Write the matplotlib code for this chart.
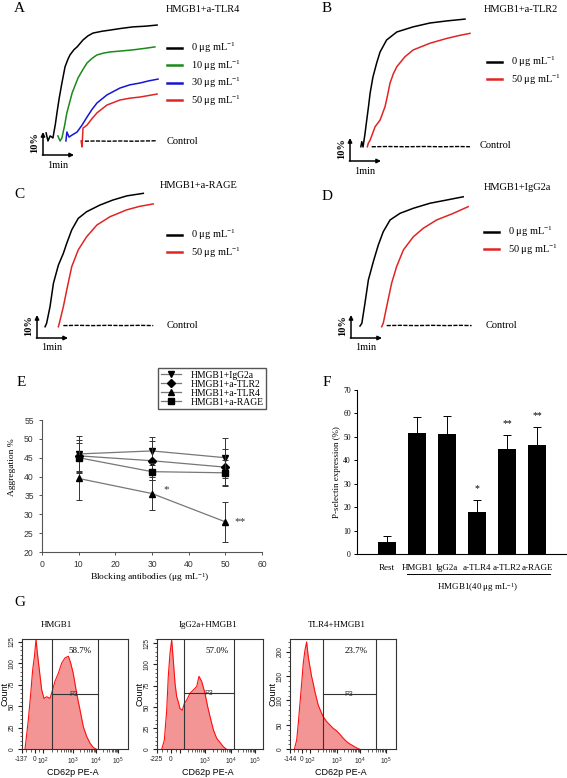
import matplotlib
matplotlib.use('Agg')
import matplotlib.pyplot as plt
import numpy as np
from matplotlib.lines import Line2D

plt.rcParams['font.family'] = ['Liberation Serif', 'DejaVu Serif']
plt.rcParams['mathtext.fontset'] = 'custom'
plt.rcParams['mathtext.rm'] = 'Liberation Serif'
plt.rcParams['mathtext.it'] = 'Liberation Serif:italic'
plt.rcParams['mathtext.bf'] = 'Liberation Serif:bold'
plt.rcParams['mathtext.sf'] = 'Liberation Sans'

# ---------------- data ----------------
# aggregation traces: time (min) vs aggregation (%) from start of scale bar
a_t_0 = [0.10, 0.16, 0.23, 0.32, 0.40, 0.45, 0.52, 0.61, 0.71, 0.80, 0.87, 1.00, 1.10, 1.29, 1.45, 1.61, 1.90, 2.16, 2.50, 2.90, 3.30, 3.68]
a_v_0 = [9.6, 6.1, 8.3, 7.4, 13.5, 18.3, 24.5, 31.3, 38.3, 41.5, 43.5, 45.8, 47.0, 50.0, 51.8, 53.0, 53.8, 54.3, 55.0, 55.7, 56.0, 56.5]
a_t_10 = [0.48, 0.55, 0.61, 0.70, 0.77, 0.94, 1.13, 1.28, 1.42, 1.58, 1.74, 1.95, 2.16, 2.50, 2.90, 3.25, 3.61]
a_v_10 = [8.3, 6.1, 7.4, 13.0, 18.3, 27.0, 33.5, 37.0, 40.0, 42.0, 43.5, 44.3, 44.8, 45.2, 45.7, 46.3, 47.0]
a_t_30 = [0.74, 0.77, 0.84, 0.94, 1.10, 1.26, 1.42, 1.58, 1.74, 2.06, 2.48, 2.80, 3.13, 3.40, 3.71]
a_v_30 = [6.1, 10.0, 7.8, 8.7, 10.0, 13.0, 16.5, 19.8, 22.6, 26.1, 29.1, 30.5, 31.3, 32.2, 33.0]
a_t_50 = [1.23, 1.26, 1.29, 1.42, 1.58, 1.74, 2.06, 2.48, 2.80, 3.13, 3.68]
a_v_50 = [6.1, 3.5, 11.7, 13.0, 15.8, 18.3, 21.7, 23.9, 24.7, 25.2, 26.5]
a_ctrl_t = [1.35, 1.70, 2.10, 2.50, 2.90, 3.30, 3.68]
a_ctrl_v = [6.0, 6.1, 6.0, 6.1, 6.0, 6.1, 6.2]

b_t_0 = [0.35, 0.38, 0.42, 0.48, 0.54, 0.60, 0.65, 0.74, 0.86, 0.97, 1.18, 1.51, 2.03, 2.58, 3.12, 3.71]
b_v_0 = [6.2, 8.4, 6.1, 11.5, 17.8, 24.0, 29.6, 36.5, 42.6, 47.4, 52.6, 56.1, 58.3, 60.0, 60.9, 61.7]
b_t_50 = [0.56, 0.59, 0.65, 0.81, 0.97, 1.13, 1.21, 1.29, 1.40, 1.51, 1.77, 2.04, 2.58, 3.12, 3.50, 3.87]
b_v_50 = [6.2, 7.7, 9.1, 14.9, 17.8, 23.6, 28.5, 33.8, 38.0, 41.0, 45.3, 48.3, 51.2, 53.3, 54.5, 55.5]
b_ctrl_t = [0.70, 1.20, 1.80, 2.40, 3.00, 3.50, 3.87]
b_ctrl_v = [6.2, 6.3, 6.2, 6.3, 6.2, 6.3, 6.2]

c_t_0 = [0.26, 0.31, 0.42, 0.53, 0.69, 0.85, 0.96, 1.12, 1.33, 1.60, 2.03, 2.45, 2.90, 3.43]
c_v_0 = [4.9, 6.4, 13.6, 23.8, 31.7, 36.8, 41.2, 47.0, 52.0, 54.9, 57.8, 60.0, 61.8, 62.9]
c_t_50 = [0.69, 0.72, 0.85, 0.96, 1.12, 1.33, 1.60, 1.93, 2.35, 2.89, 3.30, 3.75]
c_v_50 = [4.9, 6.4, 13.6, 20.9, 31.0, 38.3, 44.0, 49.1, 52.7, 55.7, 57.2, 58.3]
c_ctrl_t = [0.85, 1.30, 1.80, 2.30, 2.80, 3.30, 3.75]
c_ctrl_v = [5.4, 5.5, 5.4, 5.5, 5.4, 5.5, 5.4]

d_t_0 = [0.29, 0.35, 0.45, 0.56, 0.72, 0.88, 1.04, 1.26, 1.58, 2.01, 2.55, 3.09, 3.62]
d_v_0 = [5.2, 6.4, 15.1, 25.2, 33.2, 40.4, 46.2, 51.3, 54.2, 56.4, 58.6, 60.0, 61.4]
d_t_50 = [0.99, 1.04, 1.15, 1.31, 1.47, 1.69, 2.01, 2.33, 2.76, 3.30, 3.78]
d_v_50 = [4.9, 6.4, 13.6, 23.8, 31.0, 38.3, 44.0, 47.7, 51.3, 54.2, 57.1]
d_ctrl_t = [1.15, 1.60, 2.10, 2.60, 3.10, 3.50, 3.89]
d_ctrl_v = [5.4, 5.5, 5.4, 5.5, 5.4, 5.5, 5.4]

# panel E
conc = [10, 30, 50]
igg2a_mean = [46.0, 46.8, 45.0]
igg2a_err = [4.8, 3.7, 5.3]
tlr2_mean = [45.5, 44.2, 42.5]
tlr2_err = [4.1, 5.1, 4.8]
tlr4_mean = [39.5, 35.5, 28.0]
tlr4_err = [5.7, 4.3, 5.3]
rage_mean = [45.0, 41.3, 41.0]
rage_err = [4.0, 2.2, 3.4]

# panel F
f_groups = ['Rest', 'HMGB1', 'IgG2a', 'a-TLR4', 'a-TLR2', 'a-RAGE']
pselectin = [5.0, 51.5, 51.0, 18.0, 44.7, 46.6]
pselectin_err = [2.6, 7.0, 7.6, 4.8, 6.0, 7.4]
f_marks = ['', '', '', '*', '**', '**']

# panel G (channel 0-1000 across the plot)
facs_titles = ['HMGB1', 'IgG2a+HMGB1', 'TLR4+HMGB1']
facs_percent = ['58.7%', '57.0%', '23.7%']
facs_low_label = ['-137', '-225', '-144']
hmgb1_chan = [31, 62, 85, 103, 119, 135, 147, 166, 188, 210, 235, 266, 291, 313, 344, 376, 407, 439, 461, 485, 517, 548, 580, 611, 643, 674, 705]
hmgb1_count = [0, 34, 65, 92, 107, 128, 112, 92, 69, 59, 61, 59, 69, 79, 88, 100, 106, 108, 100, 88, 65, 46, 26, 15, 7, 2, 0]
igg2a_chan = [47, 72, 94, 109, 125, 141, 156, 172, 188, 203, 219, 241, 260, 282, 313, 345, 376, 398, 423, 454, 480, 501, 533, 564, 596, 627, 658]
igg2a_count = [0, 11, 46, 86, 113, 129, 105, 78, 62, 56, 48, 46, 54, 58, 66, 70, 74, 86, 80, 66, 50, 39, 23, 13, 8, 3, 0]
tlr4_chan = [41, 63, 78, 94, 110, 125, 141, 157, 172, 188, 204, 219, 235, 251, 266, 292, 313, 345, 376, 407, 439, 470, 501, 533, 564, 596, 627, 659]
tlr4_count = [0, 19, 53, 94, 135, 176, 203, 220, 190, 169, 149, 135, 118, 104, 91, 77, 67, 57, 50, 43, 38, 31, 23, 16, 11, 7, 3, 0]
facs_gate_lo = [282, 260, 310]
facs_gate_hi = [715, 730, 815]
facs_p3 = [64, 66, 113]
facs_ymax = [128, 130, 226]
facs_ystep = [25, 25, 50]
facs_zero = [125, 135, 110]
facs_decades = [[198, 480, 700, 909], [220, 454, 700, 925], [190, 440, 660, 905]]

# ---------------- layout helpers ----------------
W, H = 567, 778
fig = plt.figure(figsize=(W / 100, H / 100), dpi=100)
PX_MIN, PX_PCT = 31.0, 2.3


def px_axes(left, top, right, bottom):
    return fig.add_axes([left / W, 1 - bottom / H, (right - left) / W, (bottom - top) / H])


def label(x, y, s, **kw):
    kw.setdefault('ha', 'center')
    kw.setdefault('va', 'center')
    return fig.text(x / W, 1 - y / H, s, **kw)


def trace_panel(rect, corner, curves, ctrl, leg_xy, ctrl_xy, title, title_xy, letter, letter_xy):
    left, top, right, bottom = rect
    cx, cy = corner
    ax = px_axes(left, top, right, bottom)
    ax.set_xlim((left - cx) / PX_MIN, (right - cx) / PX_MIN)
    ax.set_ylim((cy - bottom) / PX_PCT, (cy - top) / PX_PCT)
    ax.axis('off')
    handles = []
    for t, v, col, lab in curves:
        h, = ax.plot(t, v, color=col, lw=1.1, label=lab)
        handles.append(h)
    ax.plot(ctrl[0], ctrl[1], color='black', lw=1.0, ls=(0, (3, 1)))
    arrow = dict(arrowstyle='-|>', lw=1.1, color='black', mutation_scale=6, shrinkA=0, shrinkB=0)
    ax.annotate('', xy=(0, 10), xytext=(0, 0), arrowprops=arrow)
    ax.annotate('', xy=(1, 0), xytext=(-0.02, 0), arrowprops=arrow)
    label(cx - 8, cy - 12, '10%', rotation=90, fontsize=7.5, fontweight='bold')
    label(cx + 15, cy + 10, '1min', fontsize=7.5)
    leg = ax.legend(handles=handles, loc='upper left',
                    bbox_to_anchor=(leg_xy[0] / W, 1 - leg_xy[1] / H), bbox_transform=fig.transFigure,
                    frameon=False, fontsize=7.5, handlelength=1.4, handletextpad=0.9,
                    labelspacing=0.3, borderpad=0, borderaxespad=0)
    for ln in leg.get_lines():
        ln.set_linewidth(1.8)
    label(ctrl_xy[0], ctrl_xy[1], 'Control', ha='left', fontsize=7.5)
    label(title_xy[0], title_xy[1], title, fontsize=7.5)
    label(letter_xy[0], letter_xy[1], letter, fontsize=11)
    return ax


ug = ' μg mL$^{-1}$'
trace_panel((0, 0, 283, 180), (43, 155),
            [(a_t_0, a_v_0, 'black', '0' + ug), (a_t_10, a_v_10, '#1a8a1a', '10' + ug),
             (a_t_30, a_v_30, '#1515d5', '30' + ug), (a_t_50, a_v_50, '#e02525', '50' + ug)],
            (a_ctrl_t, a_ctrl_v), (167, 41), (167, 141), 'HMGB1+a-TLR4', (203, 10), 'A', (19, 8))
trace_panel((283, 0, 567, 180), (350, 161),
            [(b_t_0, b_v_0, 'black', '0' + ug), (b_t_50, b_v_50, '#e02525', '50' + ug)],
            (b_ctrl_t, b_ctrl_v), (487, 55), (480, 145), 'HMGB1+a-TLR2', (521, 10), 'B', (327, 8))
trace_panel((0, 180, 283, 360), (37, 338),
            [(c_t_0, c_v_0, 'black', '0' + ug), (c_t_50, c_v_50, '#e02525', '50' + ug)],
            (c_ctrl_t, c_ctrl_v), (167, 228), (167, 326), 'HMGB1+a-RAGE', (199, 186), 'C', (19, 194))
trace_panel((283, 180, 567, 360), (351, 338),
            [(d_t_0, d_v_0, 'black', '0' + ug), (d_t_50, d_v_50, '#e02525', '50' + ug)],
            (d_ctrl_t, d_ctrl_v), (484, 225), (486, 326), 'HMGB1+IgG2a', (517, 187), 'D', (327, 196))

# ---------------- panel E ----------------
axE = px_axes(42, 420, 262, 552)
series_e = [(igg2a_mean, igg2a_err, 'v', 'HMGB1+IgG2a', 4.5),
            (tlr2_mean, tlr2_err, 'D', 'HMGB1+a-TLR2', 3.8),
            (tlr4_mean, tlr4_err, '^', 'HMGB1+a-TLR4', 4.5),
            (rage_mean, rage_err, 's', 'HMGB1+a-RAGE', 4.0)]
for m, e, mk, lab, ms in series_e:
    axE.errorbar(conc, m, yerr=e, fmt='none', ecolor='#333333', elinewidth=0.7, capsize=2.5, capthick=0.7)
    axE.plot(conc, m, color='#777777', lw=0.9, marker=mk, ms=ms, mfc='black', mec='black', label=lab)
axE.set_xlim(0, 60)
axE.set_ylim(20, 55)
axE.set_xticks(range(0, 61, 10))
axE.set_yticks(range(20, 56, 5))
for s in ['top', 'right']:
    axE.spines[s].set_visible(False)
for s in ['left', 'bottom']:
    axE.spines[s].set_color('#555555')
    axE.spines[s].set_linewidth(0.8)
axE.tick_params(direction='out', length=2.5, width=0.7, colors='#555555', labelsize=6.2, labelcolor='#333333')
for t in axE.get_xticklabels() + axE.get_yticklabels():
    t.set_family('Liberation Sans')
axE.text(34, 36.5, '*', fontsize=8, ha='center', va='center', color='#333333')
axE.text(54, 28, '**', fontsize=8, ha='center', va='center', color='#333333')
axE.legend(loc='upper left', bbox_to_anchor=(158.3 / W, 1 - 368.3 / H), bbox_transform=fig.transFigure,
           fontsize=6.9, handlelength=2.1, handletextpad=1.0, borderpad=0.25, labelspacing=0.0,
           borderaxespad=0, fancybox=False, edgecolor='#555555', framealpha=1)
label(150, 578, 'Blocking antibodies (μg mL$^{-1}$)', fontsize=6.8)
label(12, 467, 'Aggregation %', fontsize=6.8, rotation=90)
label(21, 383, 'E', fontsize=11)

# ---------------- panel F ----------------
axF = px_axes(357, 389.7, 566, 554)
xf = np.arange(len(f_groups))
axF.bar(xf, pselectin, width=0.6, color='black')
axF.errorbar(xf, pselectin, yerr=[np.zeros(len(xf)), pselectin_err], fmt='none', ecolor='black',
             elinewidth=0.7, capsize=3, capthick=0.7)
for i, mk in enumerate(f_marks):
    if mk:
        axF.text(xf[i], pselectin[i] + pselectin_err[i] + 5, mk, ha='center', va='center', fontsize=7)
axF.set_xlim(-1, 5.97)
axF.set_ylim(0, 70)
axF.set_yticks(range(0, 71, 10))
axF.set_xticks(xf)
axF.set_xticklabels(f_groups, fontsize=6.5)
axF.tick_params(axis='x', length=0, pad=7)
axF.tick_params(axis='y', direction='out', length=2.5, width=0.7, labelsize=5.5, pad=2)
for s in ['top', 'right']:
    axF.spines[s].set_visible(False)
for s in ['left', 'bottom']:
    axF.spines[s].set_linewidth(0.8)
fig.add_artist(Line2D([407 / W, 550 / W], [1 - 574 / H, 1 - 574 / H], color='black', lw=0.7))
label(478, 588, 'HMGB1(40 μg mL$^{-1}$)', fontsize=6.5)
label(337, 472, 'P-selectin expression (%)', fontsize=6.5, rotation=90)
label(327, 382, 'F', fontsize=11)

# ---------------- panel G ----------------
label(20, 603, 'G', fontsize=11)
facs_px = [(21.7, 128), (156.7, 263), (290, 396)]
facs_data = [(hmgb1_chan, hmgb1_count), (igg2a_chan, igg2a_count), (tlr4_chan, tlr4_count)]
title_fx = [0.33, 0.48, 0.44]
pct_fx = [0.55, 0.564, 0.627]
p3_fx = [0.49, 0.485, 0.552]
for k in range(3):
    l, r = facs_px[k]
    ax = px_axes(l, 639, r, 749.3)
    chan, cnt = facs_data[k]
    ax.fill_between(chan, cnt, color='#f39595', lw=0)
    ax.plot(chan, cnt, color='#ff1010', lw=0.8)
    ax.set_xlim(0, 1000)
    ax.set_ylim(0, facs_ymax[k])
    ax.axvline(facs_gate_lo[k], color='#333333', lw=0.8)
    ax.axvline(facs_gate_hi[k], color='#333333', lw=0.8)
    ax.plot([facs_gate_lo[k], facs_gate_hi[k]], [facs_p3[k], facs_p3[k]], color='#333333', lw=0.8)
    ax.text(p3_fx[k] * 1000, facs_p3[k], 'P3', ha='center', va='center', fontsize=5,
            family='Liberation Sans', color='#333333')
    ax.text(pct_fx[k], 0.894, facs_percent[k], transform=ax.transAxes, ha='center', va='center', fontsize=6.5)
    ax.text(title_fx[k], 1.13, facs_titles[k], transform=ax.transAxes, ha='center', va='center', fontsize=6.5)
    dec = facs_decades[k]
    majors = [0, facs_zero[k]] + dec
    labels = [facs_low_label[k], '0'] + ['$\\mathsf{10^{%d}}$' % p for p in range(2, 6)]
    if k == 1:
        labels[2] = ''
    ax.set_xticks(majors)
    ax.set_xticklabels(labels)
    minors = []
    for a, b in zip(dec[:-1], dec[1:]):
        minors += [a + np.log10(m) * (b - a) for m in range(2, 10)]
    minors += [facs_zero[k] * 0.35, facs_zero[k] * 0.7, (facs_zero[k] + dec[0]) / 2]
    ax.set_xticks(minors, minor=True)
    ax.set_yticks(range(0, facs_ymax[k] + 1, facs_ystep[k]))
    ax.set_yticks(range(0, facs_ymax[k] + 1, facs_ystep[k] // 5), minor=True)
    ax.tick_params(which='major', direction='out', length=3, width=0.8, labelsize=4.8, pad=1.5, colors='#222222')
    ax.tick_params(which='minor', direction='out', length=1.8, width=0.5, colors='#222222')
    ax.tick_params(axis='y', labelrotation=90)
    for t in ax.get_xticklabels() + ax.get_yticklabels():
        t.set_family('Liberation Sans')
    for t in ax.get_yticklabels():
        t.set_va('center')
    for s in ax.spines.values():
        s.set_color('#333333')
        s.set_linewidth(0.8)
    label(l - 17, 694, 'Count', rotation=90, fontsize=6.5, family='Liberation Sans')
    label(l + 0.48 * (r - l), 772.7, 'CD62p PE-A', fontsize=6.5, family='Liberation Sans')

fig.savefig('out.png', dpi=100)
